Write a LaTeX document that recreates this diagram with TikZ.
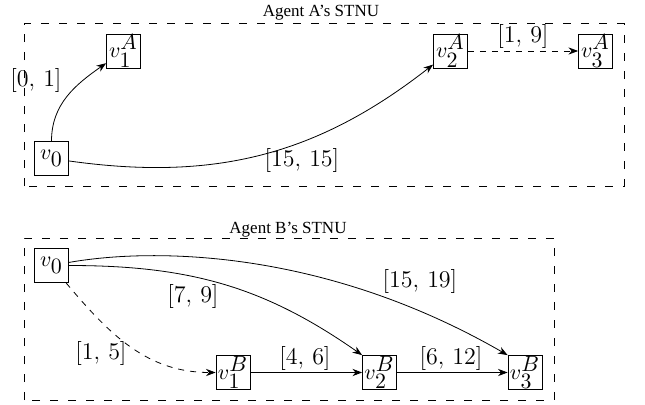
\documentclass[tikz,border=0pt]{standalone}
\usepackage[no-math]{fontspec}
\newfontfamily\titlefont{Liberation Serif}
\usetikzlibrary{arrows.meta}

\tikzset{
  vtx/.style={draw, inner sep=0pt, minimum size=17pt, font=\fontsize{11}{13}\selectfont},
  lbl/.style={font=\large, inner sep=0pt},
  stnu/.style={draw, dash pattern=on 4pt off 5pt},
  ttl/.style={font=\titlefont\fontsize{8.5}{10}\selectfont, inner sep=0pt, anchor=base},
  >={Stealth}
}
\newcommand{\vtxlab}[2]{$v_{\textstyle #1}^{\textstyle #2}$}

\begin{document}
\begin{tikzpicture}[x=0.5pt, y=0.5pt]
    \useasboundingbox (0,0) rectangle (645,404);

    % Agent A's STNU
    \draw[stnu] (24,218) rectangle (624,380.5);
    \node[ttl] (ttlA) at (321,388) {Agent A’s STNU};

    \node[vtx] (v0A) at (51.5,245.5) {$v_{\textstyle 0}$};
    \node[vtx] (v1A) at (123.5,353) {\vtxlab{1}{A}};
    \node[vtx] (v2A) at (450.5,353) {\vtxlab{2}{A}};
    \node[vtx] (v3A) at (595.5,353) {\vtxlab{3}{A}};

    \draw[->] (v0A) to[out=90, in=215] (v1A);
    \draw[->] (v0A) to[out=-8, in=218] (v2A);
    \draw[->, dashed] (v2A) -- (v3A);

    \node[lbl] (l01) at (36,324) {$[0,\,1]$};
    \node[lbl] (l15) at (302,244) {$[15,\,15]$};
    \node[lbl] (l19) at (523,368) {$[1,\,9]$};

    % Agent B's STNU
    \draw[stnu] (24,4) rectangle (554,166);
    \node[ttl] (ttlB) at (288,170.5) {Agent B’s STNU};

    \node[vtx] (v0B) at (51.5,138.5) {$v_{\textstyle 0}$};
    \node[vtx] (v1B) at (233,31.5) {\vtxlab{1}{B}};
    \node[vtx] (v2B) at (379.5,31.5) {\vtxlab{2}{B}};
    \node[vtx] (v3B) at (525,31.5) {\vtxlab{3}{B}};

    \draw[->, dashed] (v0B) to[out=-50, in=180] (v1B);
    \draw[->] (v0B) to[out=0, in=145] (v2B.north west);
    \draw[->] (v0B) to[out=10, in=150, out looseness=0.5, in looseness=1.2] (v3B.north west);
    \draw[->] (v1B) -- (v2B);
    \draw[->] (v2B) -- (v3B);

    \node[lbl] (l15b) at (101,51) {$[1,\,5]$};
    \node[lbl] (l79) at (193,108) {$[7,\,9]$};
    \node[lbl] (l46) at (305,46) {$[4,\,6]$};
    \node[lbl] (l612) at (451,46) {$[6,\,12]$};
    \node[lbl] (l1519) at (420,123) {$[15,\,19]$};
\end{tikzpicture}
\end{document}
